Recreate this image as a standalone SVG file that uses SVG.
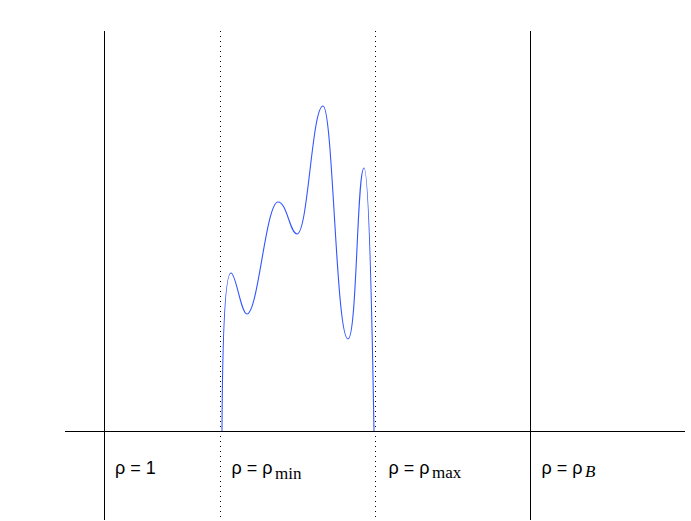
<svg xmlns="http://www.w3.org/2000/svg" width="691" height="521" viewBox="0 0 691 521">
<style>
.solid{stroke:#000;stroke-width:1;fill:none}
.dot{stroke:#000;stroke-width:1;stroke-dasharray:1 4;fill:none}
.curve{stroke:#3355ff;stroke-width:1.1;fill:none}
.lbl{font-family:"Liberation Sans",Arial,sans-serif;font-size:18px;fill:#000}
.sub{font-family:"Liberation Serif","Times New Roman",serif;font-size:17px}
</style>
<rect width="691" height="521" fill="#fff"/>
<g id="axes">
<line class="solid" x1="65" y1="431.5" x2="685" y2="431.5"/>
<line class="solid" x1="104.5" y1="31" x2="104.5" y2="520"/>
<line class="solid" x1="530.5" y1="31" x2="530.5" y2="520"/>
<line class="dot" x1="220.5" y1="31" x2="220.5" y2="520"/>
<line class="dot" x1="375.5" y1="31" x2="375.5" y2="520"/>
</g>
<g id="curve">
<path class="curve" d="M222,431 C222.5,330 225,273 231,273 C236,273 241,314 247,314 C258,314 266,202 278,202 C287,202 290,234 297,234 C308,234 312,106 323,106 C333,106 336,339 348,339 C357,339 357,168 364,168 C370,168 373,380 374,431"/>
</g>
<g id="labels">
<text class="lbl" x="115" y="474">ρ = 1</text>
<text class="lbl" x="231.5" y="474">ρ = ρ<tspan class="sub" dx="2.5" dy="4.5">min</tspan></text>
<text class="lbl" x="388.5" y="474">ρ = ρ<tspan class="sub" dx="2.5" dy="3.5">max</tspan></text>
<text class="lbl" x="541.5" y="474">ρ = ρ<tspan class="sub" dx="2.5" dy="3" font-style="italic">B</tspan></text>
</g>
</svg>
